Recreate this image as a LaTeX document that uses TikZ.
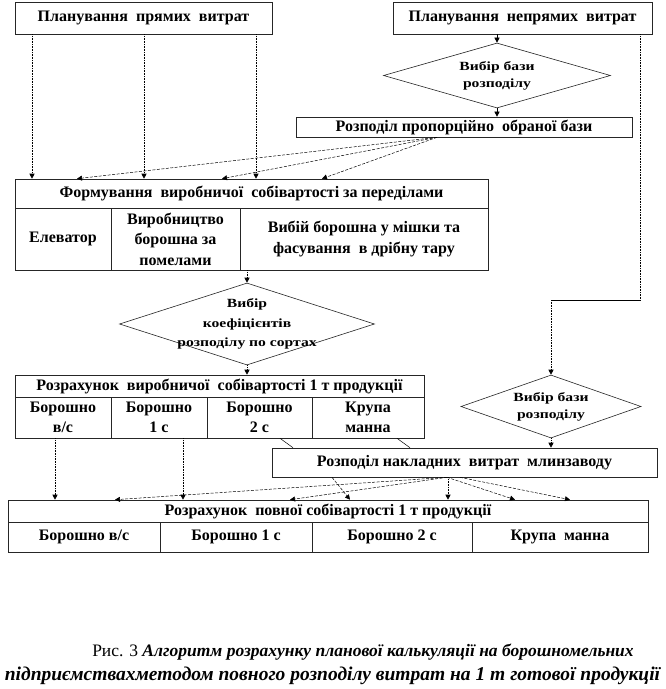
\documentclass[tikz,border=0pt]{standalone}
\usepackage{fontspec}
\setmainfont{Liberation Serif}
\newfontfamily\wideserif[FakeStretch=1.25]{Liberation Serif}
\usetikzlibrary{shapes.geometric,arrows.meta}
\begin{document}
\begin{tikzpicture}[x=1pt,y=-1pt,
  box/.style={draw=black!85, line width=0.6pt, inner sep=0pt},
  ttl/.style={font=\bfseries\fontsize{16}{18}\selectfont, inner sep=0pt},
  cell/.style={font=\bfseries\fontsize{16}{20.5}\selectfont, align=center, inner sep=0pt},
  dia/.style={diamond, draw=black!85, line width=0.6pt, inner sep=0pt},
  dtext/.style={font=\wideserif\bfseries\fontsize{12.5}{17}\selectfont, align=center, inner sep=0pt},
  sep/.style={draw=black!85, line width=0.6pt},
  tip/.style={-{Triangle[length=5pt,width=5pt]}},
  vdot/.style={densely dotted, line width=0.6pt},
  ddash/.style={dash pattern=on 3pt off 1.5pt, line width=0.5pt},
  plain/.style={line width=0.5pt},
]
\useasboundingbox (0,0) rectangle (666,689);
\fill[white] (0,0) rectangle (666,689);

% x reference coordinates
\foreach \xx in {32,55,77,115,144,183,222,256,280,290,293,322,332,350,397,410,437,447,448,460,515,570}
  \coordinate (x\xx) at (\xx,0);

% top boxes
\node[box, minimum width=257pt, minimum height=32pt] (pl) at (143.5,18) {};
\node[ttl] (plt) at (pl) {Планування\ \ прямих\ \ витрат};
\node[box, minimum width=259pt, minimum height=32pt] (pn) at (522.5,18) {};
\node[ttl] (pnt) at (pn) {Планування\ \ непрямих\ \ витрат};

% diamond 1
\node[dia, minimum width=227pt, minimum height=65pt] (d1) at (497,75.5) {};
\node[dtext] (d1t) at (d1) {Вибір бази\\розподілу};

% Розподіл пропорційно
\node[box, minimum width=336pt, minimum height=20pt] (rp) at (464,127) {};
\node[ttl] (rpt) at (rp) {Розподіл пропорційно\ \ обраної бази};

% Формування
\node[box, minimum width=473pt, minimum height=91pt] (fm) at (251.5,224.5) {};
\node[ttl] (fmt) at (251.5,193.5) {Формування\ \ виробничої\ \ собівартості за переділами};
\draw[sep] (15,208) -- (488,208);
\draw[sep] (111,208) -- (111,270);
\draw[sep] (240,208) -- (240,270);
\node[cell] (c1) at (63,239) {Елеватор};
\node[cell] (c2) at (175.5,239) {Виробництво\\борошна за\\помелами};
\node[cell] (c3) at (364,239) {Вибій борошна у мішки та\\фасування\ \ в дрібну тару};

% diamond 2
\node[dia, minimum width=255pt, minimum height=82pt] (d2) at (247,324) {};
\node[dtext, font=\wideserif\bfseries\fontsize{12.5}{19.5}\selectfont] (d2t) at (d2) {Вибір\\коефіцієнтів\\розподілу по сортах};

% Розрахунок виробничої
\node[box, minimum width=409pt, minimum height=63pt] (rz) at (219.5,406.5) {};
\node[ttl] (rzt) at (219.5,386) {Розрахунок\ \ виробничої\ \ собівартості 1 т продукції};
\draw[sep] (15,397) -- (424,397);
\draw[sep] (111,397) -- (111,438);
\draw[sep] (207,397) -- (207,438);
\draw[sep] (312,397) -- (312,438);
\node[cell] (r1) at (63,417.5) {Борошно\\в/с};
\node[cell] (r2) at (159,417.5) {Борошно\\1 с};
\node[cell] (r3) at (259.5,417.5) {Борошно\\2 с};
\node[cell] (r4) at (368,417.5) {Крупа\\манна};

% diamond 3
\node[dia, minimum width=180pt, minimum height=63pt] (d3) at (551,406.5) {};
\node[dtext] (d3t) at (d3) {Вибір бази\\розподілу};

% Розподіл накладних
\node[box, minimum width=385pt, minimum height=29pt] (rn) at (464.5,462.5) {};
\node[ttl] (rnt) at (rn) {Розподіл накладних\ \ витрат\ \ млинзаводу};

% Розрахунок повної
\node[box, minimum width=640pt, minimum height=52pt] (rv) at (328,526) {};
\node[ttl] (rvt) at (328,511) {Розрахунок\ \ повної собівартості 1 т продукції};
\draw[sep] (8,522) -- (648,522);
\draw[sep] (160,522) -- (160,552);
\draw[sep] (312,522) -- (312,552);
\draw[sep] (472,522) -- (472,552);
\node[cell] (b1) at (84,537) {Борошно в/с};
\node[cell] (b2) at (236,537) {Борошно 1 с};
\node[cell] (b3) at (392,537) {Борошно 2 с};
\node[cell] (b4) at (560,537) {Крупа\ \ манна};

% connectors: direct costs
\foreach \xx in {32,144,256}
  \draw[vdot, tip] (pl.south -| x\xx) -- (fm.north -| x\xx);
\draw[tip] (pn.south -| d1.north) -- (d1.north);
\draw[tip] (d1.south) -- (d1.south |- rp.north);
\foreach \xx in {77,222,322}
  \draw[ddash, tip] (rp.south -| x437) -- (fm.north -| x\xx);

% indirect loop
\coordinate (k1) at (640,300);
\draw[vdot] (pn.south -| k1) -- (k1);
\draw[plain] (k1) -- (k1 -| d3.north);
\draw[vdot, tip] (k1 -| d3.north) -- (d3.north);

% production cost chain
\draw[vdot, tip] (fm.south -| d2.north) -- (d2.north);
\draw[vdot, tip] (d2.south) -- (d2.south |- rz.north);
\draw[plain] (rz.south -| x280) -- (rn.north -| x293);
\draw[plain] (rz.south -| x397) -- (rn.north -| x410);
\draw[vdot, tip] (d3.south) -- (d3.south |- rn.north);
\draw[vdot, tip] (rz.south -| x55) -- (rv.north -| x55);
\draw[vdot, tip] (rz.south -| x183) -- (rv.north -| x183);

% overheads distribution
\draw[ddash, tip] (rn.south -| x447) -- (rv.north -| x115);
\draw[ddash, tip] (rn.south -| x447) -- (rv.north -| x290);
\draw[ddash, tip] (rn.south -| x332) -- (rv.north -| x350);
\draw[vdot, tip] (rn.south -| x448) -- (rv.north -| x448);
\draw[ddash, tip] (rn.south -| x447) -- (rv.north -| x515);
\draw[ddash, tip] (rn.south -| x460) -- (rv.north -| x570);

% caption
\node[inner sep=0pt, font=\fontsize{17.5}{20}\selectfont] (cap1) at (363,652)
  {Рис. 3 \textbf{\textit{Алгоритм розрахунку планової калькуляції на борошномельних}}};
\node[inner sep=0pt, font=\fontsize{19.5}{22}\selectfont] (cap2) at (333,676)
  {\textbf{\textit{підприємствахметодом повного розподілу витрат на 1 т готової продукції}}};
\end{tikzpicture}
\end{document}
